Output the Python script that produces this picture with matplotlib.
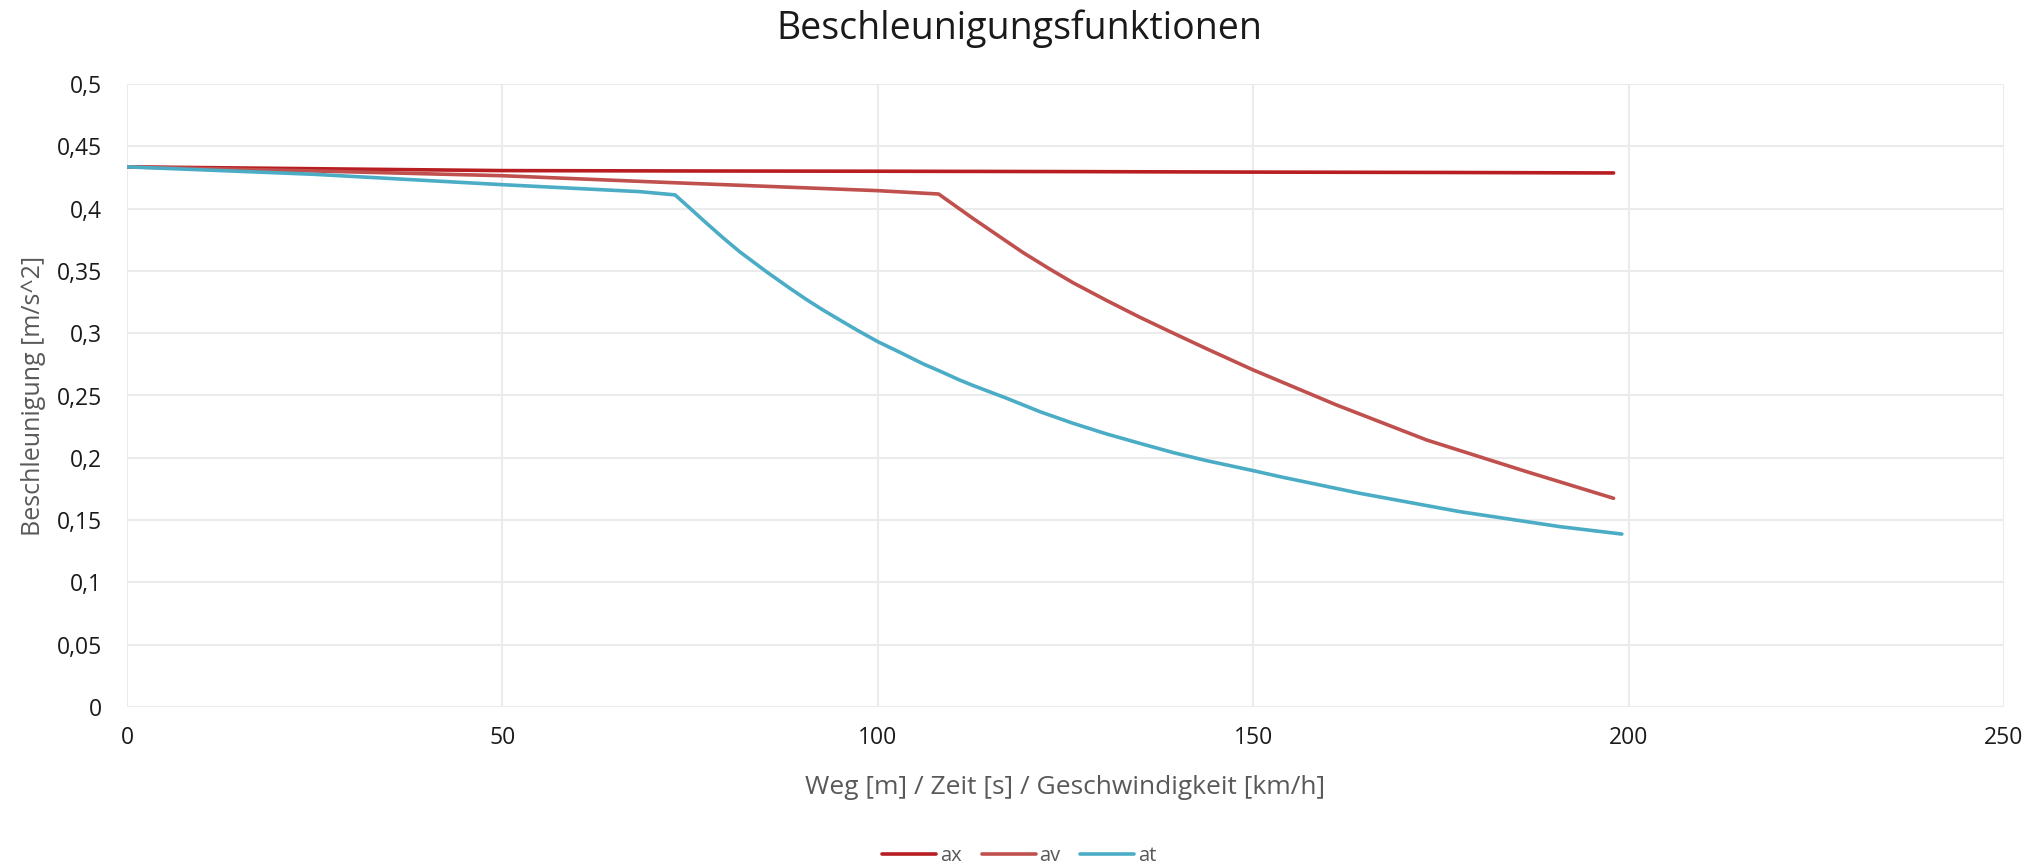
import matplotlib
matplotlib.use("Agg")
import matplotlib.pyplot as plt
from matplotlib.ticker import FuncFormatter, MultipleLocator

plt.rcParams['font.family'] = ['Open Sans', 'DejaVu Sans']

# Acceleration curves (x: distance [m] / time [s] / speed [km/h])
ax_x = [0, 25, 50, 75, 100, 125, 150, 175, 198]
ax_y = [0.4335, 0.4320, 0.4305, 0.4302, 0.4300, 0.4297, 0.4293, 0.4290, 0.4286]

av_x = [0, 25, 50, 71, 100, 108.1, 112.7, 117.2, 119.4, 122.9, 126.0,
        130.5, 134.9, 139.4, 143.8, 150, 161.1, 173.1, 186.4, 198.0]
av_y = [0.4335, 0.4302, 0.4264, 0.4212, 0.4144, 0.4117, 0.3920, 0.3735,
        0.3645, 0.3515, 0.3405, 0.3262, 0.3128, 0.2999, 0.2875, 0.2705,
        0.2424, 0.2143, 0.1889, 0.1675]

at_x = [0, 25, 50, 68.3, 73.0, 75.0, 77.2, 79.4, 81.6, 85.2, 88.3, 90.5,
        92.7, 95.0, 97.2, 100, 103.0, 106.1, 108.3, 110.9, 112.7, 117.2,
        121.6, 126.0, 130.5, 134.9, 139.4, 143.8, 150, 153.6, 164.2, 177.5,
        190.9, 199.1]
at_y = [0.4335, 0.4275, 0.4192, 0.4136, 0.4110, 0.4002, 0.3882, 0.3765,
        0.3654, 0.3492, 0.3360, 0.3270, 0.3186, 0.3104, 0.3026, 0.2932,
        0.2845, 0.2752, 0.2695, 0.2624, 0.2580, 0.2477, 0.2370, 0.2277,
        0.2191, 0.2116, 0.2041, 0.1977, 0.1897, 0.1848, 0.1715, 0.1568,
        0.1447, 0.1388]

series = [("ax", ax_x, ax_y, "#B81D21"),
          ("av", av_x, av_y, "#C0504D"),
          ("at", at_x, at_y, "#4BACC6")]

title = "Beschleunigungsfunktionen"
xlabel = "Weg [m] / Zeit [s] / Geschwindigkeit [km/h]"
ylabel = "Beschleunigung [m/s^2]"

fig = plt.figure(figsize=(20.39, 8.67), dpi=100)
ax = fig.add_axes([127 / 2039, 1 - 707 / 867, (2004 - 127) / 2039, (707 - 84) / 867])

for name, xs, ys, col in series:
    ax.plot(xs, ys, color=col, lw=2.6, label=name, solid_capstyle='round',
            solid_joinstyle='round', zorder=3)

ax.set_xlim(0, 250)
ax.set_ylim(0, 0.5)
ax.xaxis.set_major_locator(MultipleLocator(50))
ax.yaxis.set_major_locator(MultipleLocator(0.05))
fmt = FuncFormatter(lambda v, p: ('%g' % round(v, 4)).replace('.', ','))
ax.xaxis.set_major_formatter(fmt)
ax.yaxis.set_major_formatter(fmt)

ax.grid(True, color="#EBEBEB", lw=1.5, zorder=0)
for s in ax.spines.values():
    s.set_visible(False)
ax.tick_params(length=0, labelsize=16.5, colors="#1a1a1a")
ax.tick_params(axis='x', pad=14)
ax.tick_params(axis='y', pad=18)

ax.set_xlabel(xlabel, fontsize=19, color="#595959", labelpad=18)
ax.set_ylabel(ylabel, fontsize=18, color="#595959", labelpad=8)
fig.text(0.5, 1 - 29 / 867, title, ha='center', va='center', fontsize=27,
         color="#1a1a1a")

leg = fig.legend(loc='center', bbox_to_anchor=(0.5, 1 - 856 / 867), ncol=3,
                 frameon=False, fontsize=14.5, handlelength=2.68,
                 handletextpad=0.2, columnspacing=0.97, labelcolor="#595959")

fig.savefig("out.png", dpi=100, facecolor="white")
